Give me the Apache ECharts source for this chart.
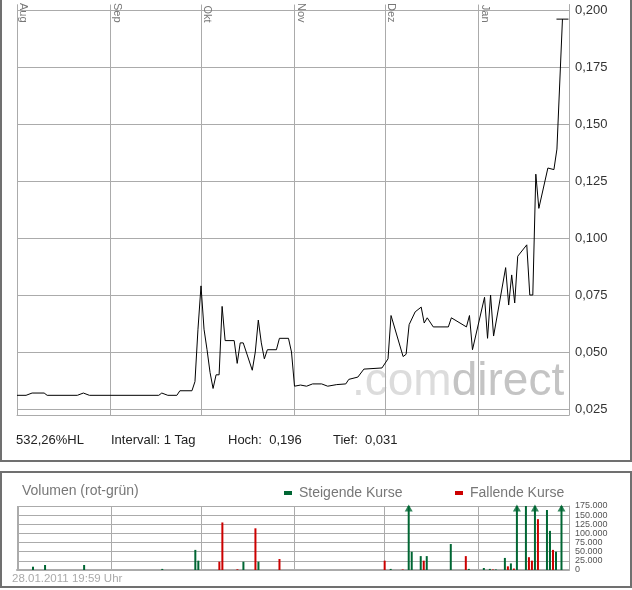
<!DOCTYPE html>
<html>
<head>
<meta charset="utf-8">
<script src="https://cdn.jsdelivr.net/npm/echarts@6/dist/echarts.min.js"></script>
<style>html,body{margin:0;padding:0;background:#fff}#c{width:632px;height:590px}</style>
</head>
<body>
<div id="c"></div>
<script>
// ---- data ----
const priceDates = ['2010-08-01','2010-08-04','2010-08-06','2010-08-10','2010-08-11','2010-08-21','2010-08-23','2010-08-25',
 '2010-09-17','2010-09-18','2010-09-20','2010-09-23','2010-09-24','2010-09-28','2010-09-29','2010-09-30',
 '2010-10-01','2010-10-02','2010-10-03','2010-10-04','2010-10-05','2010-10-06','2010-10-07','2010-10-08','2010-10-09',
 '2010-10-12','2010-10-13','2010-10-14','2010-10-15','2010-10-18','2010-10-19','2010-10-20','2010-10-21','2010-10-22',
 '2010-10-23','2010-10-26','2010-10-27','2010-10-30','2010-10-31',
 '2010-11-01','2010-11-03','2010-11-05','2010-11-07','2010-11-10','2010-11-12','2010-11-15','2010-11-18','2010-11-19',
 '2010-11-22','2010-11-24','2010-11-30',
 '2010-12-02','2010-12-03','2010-12-07','2010-12-08','2010-12-09','2010-12-11','2010-12-13','2010-12-14','2010-12-15',
 '2010-12-17','2010-12-22','2010-12-23','2010-12-28','2010-12-29','2010-12-30',
 '2011-01-03','2011-01-04','2011-01-05','2011-01-06','2011-01-10','2011-01-11','2011-01-12','2011-01-13','2011-01-14',
 '2011-01-17','2011-01-18','2011-01-19','2011-01-20','2011-01-21','2011-01-24','2011-01-26','2011-01-27','2011-01-28 19:59'];
const prices = [0.031,0.031,0.032,0.032,0.031,0.031,0.032,0.031,
 0.031,0.032,0.031,0.031,0.033,0.033,0.037,0.060,
 0.079,0.060,0.051,0.041,0.034,0.040,0.040,0.070,0.055,
 0.055,0.045,0.054,0.054,0.042,0.050,0.064,0.054,0.047,
 0.051,0.051,0.056,0.056,0.050,
 0.035,0.0355,0.035,0.036,0.036,0.035,0.0357,0.036,0.038,
 0.039,0.0425,0.043,
 0.047,0.066,0.048,0.049,0.062,0.0676,0.0697,0.0627,0.065,
 0.061,0.061,0.065,0.061,0.066,0.051,
 0.074,0.056,0.075,0.057,0.087,0.0706,0.0838,0.0715,0.092,
 0.097,0.075,0.075,0.128,0.113,0.1307,0.130,0.139,0.196];

const riseDates = ['2010-08-06','2010-08-10','2010-08-23','2010-09-18','2010-09-29','2010-09-30','2010-10-15','2010-10-20',
 '2010-12-03','2010-12-09','2010-12-10','2010-12-13','2010-12-15','2010-12-23','2010-12-29',
 '2011-01-03','2011-01-05','2011-01-07','2011-01-10','2011-01-12','2011-01-14','2011-01-17','2011-01-20',
 '2011-01-24','2011-01-25','2011-01-27','2011-01-28 19:59'];
const riseVolumes = [9000,13700,13700,3000,55000,25500,22700,22700,
 3000,200000,50000,38000,38000,71000,3000,
 5500,3000,1500,33000,18000,200000,175000,200000,
 164000,107000,50000,200000];

const fallDates = ['2010-10-07','2010-10-08','2010-10-13','2010-10-19','2010-10-27','2010-12-01','2010-12-07','2010-12-14',
 '2010-12-28','2011-01-06','2011-01-11','2011-01-13','2011-01-18','2011-01-19','2011-01-21','2011-01-26'];
const fallVolumes = [22700,130000,2000,114000,30000,25500,1500,25500,
 38000,1500,10000,4000,35000,25500,139000,55000];

const monthLabels = ['Jan','Feb','Mär','Apr','Mai','Jun','Jul','Aug','Sep','Okt','Nov','Dez'];
const priceTicks = {min:0.025, max:0.200, step:0.025};
const volTicks = {min:0, max:175000, step:25000};
const infoTexts = ['532,26%HL','Intervall: 1 Tag','Hoch:  0,196','Tief:  0,031'];
const volTitle = 'Volumen (rot-grün)';
const legendNames = ['Steigende Kurse','Fallende Kurse'];
const stampText = '28.01.2011 19:59 Uhr';
const watermark = ['.com','direct'];

// ---- chart ----
const xMin = +new Date(2010,7,1), xMax = +new Date(2011,0,31);
const GRID = '#ababab', GREEN = '#006633', RED = '#cc0000';
const fam = 'Liberation Sans';
const chart = echarts.init(document.getElementById('c'), null, {renderer:'canvas'});
const pricePairs = priceDates.map((d,i)=>[d,prices[i]]);
const risePairs = riseDates.map((d,i)=>[d,riseVolumes[i]]);
const fallPairs = fallDates.map((d,i)=>[d,fallVolumes[i]]);
const arrowPairs = riseDates.map((d,i)=>[d,riseVolumes[i]]).filter(p=>p[1]>volTicks.max).map(p=>[p[0],volTicks.max]);
const thousand = v => String(v).replace(/\B(?=(\d{3})+(?!\d))/g,'.');

const timeAxisBase = {type:'time', min:xMin, max:xMax, splitNumber:6,
  axisLabel:{show:false}, axisTick:{show:false}, axisLine:{show:false}, splitLine:{show:false}};

chart.setOption({
  animation:false,
  textStyle:{fontFamily:fam},
  grid:[
    {left:17, right:63, top:10, bottom:181},     // price
    {left:17, right:63, top:0, height:415},       // price frame (month lines)
    {left:17, right:63, top:506, bottom:20}       // volume
  ],
  xAxis:[
    Object.assign({}, timeAxisBase, {gridIndex:0}),
    Object.assign({}, timeAxisBase, {gridIndex:1, position:'bottom',
      axisLine:{show:true, lineStyle:{color:GRID, width:1}},
      splitLine:{show:true, lineStyle:{color:GRID, width:1}}}),
    Object.assign({}, timeAxisBase, {gridIndex:1, position:'top', offset:-26,
      axisLabel:{show:true, interval:0, rotate:90, margin:8, color:'#777', fontSize:11, fontFamily:fam,
        padding:[0,0,13,0], formatter:v=>monthLabels[new Date(v).getMonth()]}}),
    Object.assign({}, timeAxisBase, {gridIndex:2,
      axisLine:{show:true, lineStyle:{color:GRID, width:2}},
      splitLine:{show:true, lineStyle:{color:GRID, width:1}}})
  ],
  yAxis:[
    {type:'value', gridIndex:0, position:'right', min:priceTicks.min, max:priceTicks.max, interval:priceTicks.step,
      axisLine:{show:false}, axisTick:{show:false},
      axisLabel:{color:'#333', fontSize:13, fontFamily:fam, margin:6, formatter:v=>v.toFixed(3).replace('.',',')},
      splitLine:{show:true, lineStyle:{color:GRID, width:1}}},
    {type:'value', gridIndex:1, position:'right', min:0, max:1,
      axisLine:{show:true, lineStyle:{color:GRID, width:1}}, axisTick:{show:false}, axisLabel:{show:false}, splitLine:{show:false}},
    {type:'value', gridIndex:2, position:'right', min:volTicks.min, max:volTicks.max, interval:volTicks.step,
      axisLine:{show:true, lineStyle:{color:GRID, width:1}}, axisTick:{show:false},
      axisLabel:{color:'#555', fontSize:9, fontFamily:fam, margin:6, lineHeight:8, interval:0,
        showMinLabel:true, showMaxLabel:true, hideOverlap:false, formatter:v=>thousand(v)},
      splitLine:{show:true, lineStyle:{color:GRID, width:1}}}
  ],
  legend:[
    {data:[legendNames[0]], left:279, top:481, itemWidth:8, itemHeight:4, icon:'rect',
      textStyle:{color:'#777', fontSize:14, fontFamily:fam, padding:[0,0,0,2]}},
    {data:[legendNames[1]], left:450, top:481, itemWidth:8, itemHeight:4, icon:'rect',
      textStyle:{color:'#777', fontSize:14, fontFamily:fam, padding:[0,0,0,2]}}
  ],
  series:[
    {type:'line', xAxisIndex:0, yAxisIndex:0, data:pricePairs, showSymbol:false, symbol:'none',
      lineStyle:{color:'#000', width:1}, z:5,
      markPoint:{symbol:'rect', symbolSize:[12,1], label:{show:false}, itemStyle:{color:'#000'},
        data:[{type:'max'}], silent:true}},
    {name:legendNames[0], type:'bar', xAxisIndex:3, yAxisIndex:2, data:risePairs, barWidth:2, barGap:'-100%',
      itemStyle:{color:GREEN}, clip:true},
    {name:legendNames[1], type:'bar', xAxisIndex:3, yAxisIndex:2, data:fallPairs, barWidth:2, barGap:'-100%',
      itemStyle:{color:RED}, clip:true},
    {type:'scatter', xAxisIndex:3, yAxisIndex:2, data:arrowPairs, symbol:'triangle', symbolSize:[8,7],
      symbolOffset:[0,2], itemStyle:{color:GREEN}, z:6}
  ],
  graphic:[
    {type:'rect', shape:{x:1, y:-10, width:630, height:471}, style:{fill:null, stroke:'#707070', lineWidth:2}, z:10},
    {type:'rect', shape:{x:1, y:472, width:630, height:115}, style:{fill:null, stroke:'#707070', lineWidth:2}, z:10},
    {type:'text', x:352, y:382, z:-1, style:{text:'{a|'+watermark[0]+'}{b|'+watermark[1]+'}', verticalAlign:'middle',
      rich:{a:{fill:'#dcdcdc', fontSize:46, fontFamily:fam}, b:{fill:'#c4c4c4', fontSize:46, fontFamily:fam}}}},
    {type:'text', x:16, y:440, style:{text:infoTexts[0], fill:'#222', fontSize:13, fontFamily:fam, verticalAlign:'middle'}},
    {type:'text', x:111, y:440, style:{text:infoTexts[1], fill:'#222', fontSize:13, fontFamily:fam, verticalAlign:'middle'}},
    {type:'text', x:228, y:440, style:{text:infoTexts[2], fill:'#222', fontSize:13, fontFamily:fam, verticalAlign:'middle', whiteSpace:'pre'}},
    {type:'text', x:333, y:440, style:{text:infoTexts[3], fill:'#222', fontSize:13, fontFamily:fam, verticalAlign:'middle'}},
    {type:'text', x:22, y:491, style:{text:volTitle, fill:'#777', fontSize:14, fontFamily:fam, verticalAlign:'middle'}},
    {type:'text', x:12, y:579, style:{text:stampText, fill:'#aaa', fontSize:11.5, fontFamily:fam, verticalAlign:'middle'}}
  ]
});
</script>
</body>
</html>
